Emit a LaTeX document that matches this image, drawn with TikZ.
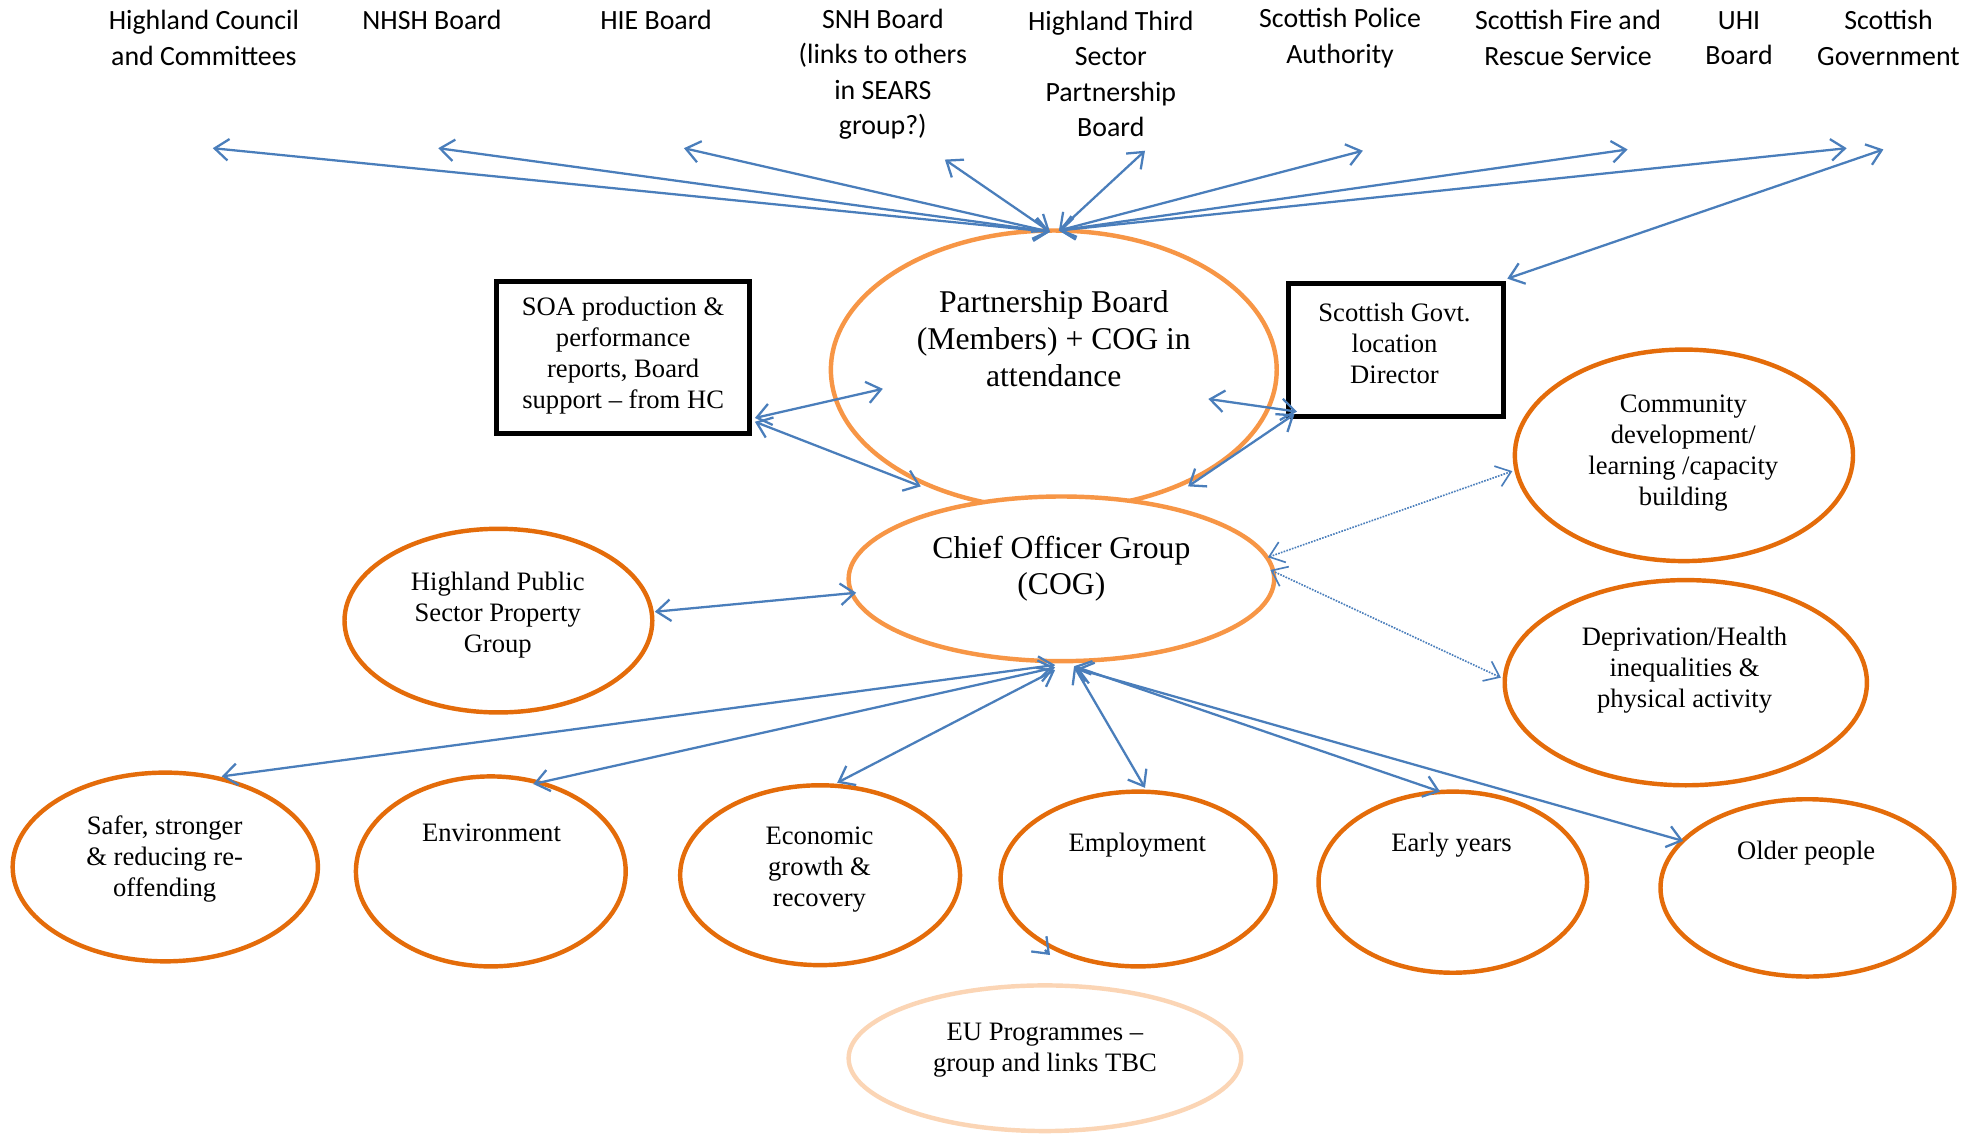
\documentclass[tikz,border=0pt]{standalone}
\usepackage{fontspec}
\setmainfont{Liberation Serif}
\newfontfamily\calib{Carlito}
\usetikzlibrary{shapes.geometric,arrows.meta,calc}
\definecolor{pbor}{HTML}{F79646}
\definecolor{dkor}{HTML}{E46C0A}
\definecolor{euor}{HTML}{FBD5B5}
\definecolor{arblue}{HTML}{4A7EBB}
\begin{document}
\begin{tikzpicture}[x=1pt,y=-1pt,
  >={Straight Barb[length=11pt,width=17pt]},
  toplabel/.style={font=\calib\fontsize{22}{28}\selectfont, align=center, inner sep=0},
  txtS/.style={font=\fontsize{21}{24.5}\selectfont, align=center, inner sep=0, yshift=-2.5pt},
  txtL/.style={font=\fontsize{25}{29}\selectfont, align=center, inner sep=0, yshift=-1.5pt},
  oval/.style={ellipse, draw=dkor, fill=white, line width=3.5pt, inner sep=0, outer sep=0},
  mainoval/.style={oval, draw=pbor},
  euoval/.style={oval, draw=euor},
  box/.style={rectangle, draw=black, fill=white, line width=4pt, inner sep=0, outer sep=0},
  link/.style={draw=arblue, line width=1.8pt, <->},
  dotlink/.style={draw=arblue, line width=1.3pt, densely dotted, <->},
]
\useasboundingbox (0,0) rectangle (1568,896);

% ---- top labels
\node[toplabel] (hc) at (161,30) {Highland Council\\and Committees};
\node[toplabel] (nhsh) at (341,16) {NHSH Board};
\node[toplabel] (hie) at (518,16) {HIE Board};
\node[toplabel] (snh) at (697,58.5) {SNH Board\\(links to others\\in SEARS\\group?)};
\node[toplabel] (h3s) at (877,58.5) {Highland Third\\Sector\\Partnership\\Board};
\node[toplabel] (police) at (1058,30) {Scottish Police\\Authority};
\node[toplabel] (fire) at (1238,30) {Scottish Fire and\\Rescue Service};
\node[toplabel] (uhi) at (1373,30) {UHI\\Board};
\node[toplabel] (sgov) at (1491,30) {Scottish\\Government};

\coordinate (hc-end) at (168,117);
\coordinate (nhsh-end) at (346,117);
\coordinate (hie-end) at (540,117);
\coordinate (snh-end) at (746,126);
\coordinate (h3s-end) at (904,119);
\coordinate (police-end) at (1076,119);
\coordinate (fire-end) at (1285,118);
\coordinate (uhi-end) at (1458,117);
\coordinate (sgov-end) at (1487,118);

% ---- shapes
\node[mainoval, minimum width=352, minimum height=220] (pb) at (832,292) {};
\node[mainoval, minimum width=336, minimum height=130] (cog) at (838,457) {};
\node[box, minimum width=200, minimum height=120] (soa) at (492,282) {};
\node[box, minimum width=170, minimum height=105] (sg) at (1102,276.5) {};
\node[oval, minimum width=243, minimum height=145] (hps) at (393.5,490) {};
\node[oval, minimum width=267, minimum height=167] (comm) at (1329.5,359.5) {};
\node[oval, minimum width=286, minimum height=162] (dep) at (1331,539) {};
\node[oval, minimum width=241, minimum height=149] (safer) at (130.5,684.5) {};
\node[oval, minimum width=213, minimum height=150] (env) at (387.5,688) {};
\node[oval, minimum width=221, minimum height=142] (econ) at (647.5,691) {};
\node[oval, minimum width=217, minimum height=138] (empl) at (898.5,694) {};
\node[oval, minimum width=212, minimum height=143] (early) at (1147,696.5) {};
\node[oval, minimum width=232, minimum height=140] (older) at (1427,701) {};
\node[euoval, minimum width=310, minimum height=115] (eu) at (825,835.5) {};

% ---- texts
\node[txtL] (pb-t) at (832,266) {Partnership Board\\(Members) + COG in\\attendance};
\node[txtL] (cog-t) at (838,447.5) {Chief Officer Group\\(COG)};
\node[txtS] (soa-t) at (492,278.5) {SOA production \&\\performance\\reports, Board\\support -- from HC};
\node[txtS] (sg-t) at (1101,268.5) {Scottish Govt.\\location\\Director};
\node[txtS] (hps-t) at (393,483) {Highland Public\\Sector Property\\Group};
\node[txtS] (comm-t) at (1329,355.5) {Community\\development/\\learning /capacity\\building};
\node[txtS] (dep-t) at (1330,526.5) {Deprivation/Health\\inequalities \&\\physical activity};
\node[txtS] (safer-t) at (130,676) {Safer, stronger\\\& reducing re-\\offending};
\node[txtS] (env-t) at (388,655) {Environment};
\node[txtS] (econ-t) at (647,684) {Economic\\growth \&\\recovery};
\node[txtS] (empl-t) at (898,665) {Employment};
\node[txtS] (early-t) at (1146,665) {Early years};
\node[txtS] (older-t) at (1426,671) {Older people};
\node[txtS] (eu-t) at (825,826.5) {EU Programmes --\\group and links TBC};

% ---- connectors: Partnership Board to the top
\draw[link] ($(pb.north)+(-3,1)$) -- (hc-end);
\draw[link] ($(pb.north)+(-3,1)$) -- (nhsh-end);
\draw[link] ($(pb.north)+(-3,1)$) -- (hie-end);
\draw[link] ($(pb.north)+(-3,1)$) -- (snh-end);
\draw[link] ($(pb.north)+(4,0)$) -- (h3s-end);
\draw[link] ($(pb.north)+(4,0)$) -- (police-end);
\draw[link] ($(pb.north)+(4,0)$) -- (fire-end);
\draw[link] ($(pb.north)+(4,0)$) -- (uhi-end);
\draw[link] (sgov-end) -- ($(sg.north east)+(3,-4)$);

% ---- boxes
\draw[link] ($(soa.south east)+(4,-12)$) -- ($(pb.center)+(-135,15)$);
\draw[link] ($(soa.south east)+(4,-9)$) -- ($(pb.center)+(-105,92)$);
\draw[link] ($(pb.center)+(122,23)$) -- ($(sg.south west)+(7,-4)$);
\draw[link] ($(sg.south west)+(5,-2)$) -- ($(cog.center)+(100,-73)$);

% ---- COG
\draw[link] ($(hps.east)+(2,-7)$) -- ($(cog.west)+(6,11)$);
\draw[dotlink] ($(cog.center)+(163,-17)$) -- ($(comm.west)+(-2,12.5)$);
\draw[dotlink] ($(cog.center)+(165,-7)$) -- ($(dep.west)+(-3,-4)$);
\draw[link] ($(cog.south)+(-5,3)$) -- ($(safer.north)+(44.5,3)$);
\draw[link] ($(cog.south)+(-5,5)$) -- ($(env.north)+(33.5,6)$);
\draw[link] ($(cog.south)+(-5,7)$) -- ($(econ.north)+(13.5,-2)$);
\draw[link] ($(cog.south)+(10,4)$) -- ($(empl.north)+(5.5,-3)$);
\draw[link] ($(cog.south)+(10,4)$) -- ($(early.north)+(-10,0)$);
\draw[link] ($(cog.south)+(12,6)$) -- ($(older.center)+(-98,-37)$);

% ---- stray arrow tip
\coordinate (stray-a) at (825,750);
\coordinate (stray-b) at (829,754);
\draw[draw=arblue, line width=1.8pt, ->] (stray-a) -- (stray-b);
\end{tikzpicture}
\end{document}
